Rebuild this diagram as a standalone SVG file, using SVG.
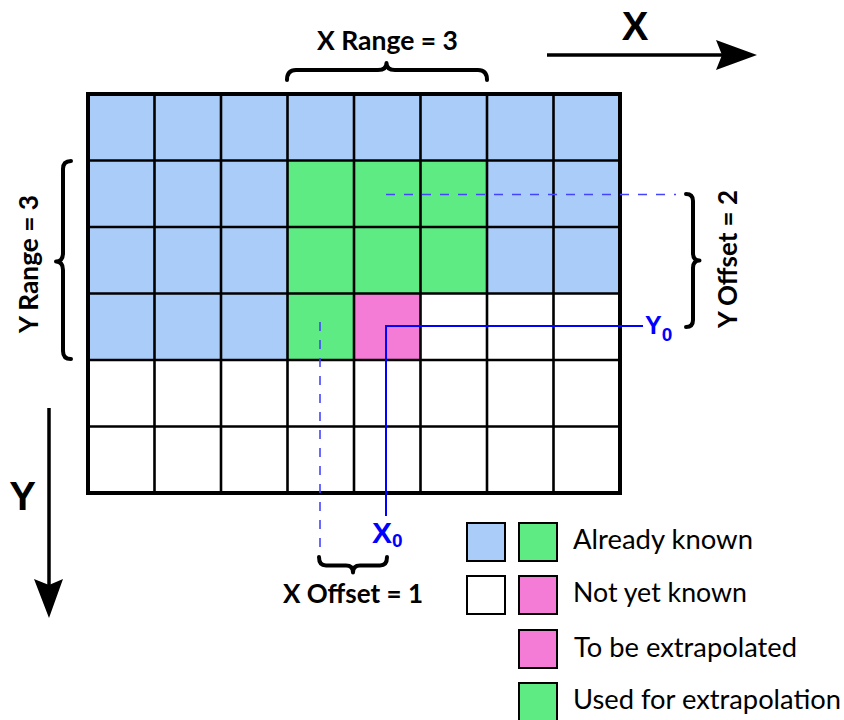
<svg xmlns="http://www.w3.org/2000/svg" width="844" height="720" viewBox="0 0 844 720">
  <style>
    .known { fill: #a9cdf8; }
    .used { fill: #5eeb84; }
    .target { fill: #f47bd6; }
    .blank { fill: #ffffff; }
    .grid-inner { stroke: #000; stroke-width: 2.6; fill: none; }
    .grid-outer { stroke: #000; stroke-width: 4; fill: none; }
    .brace { stroke: #000; stroke-width: 4; fill: none; stroke-linecap: round; stroke-linejoin: round; }
    .axis { stroke: #000; stroke-width: 3.5; fill: none; }
    .guide { stroke: #4444ff; stroke-width: 1.6; stroke-dasharray: 9 9; fill: none; }
    .origin { stroke: #0000ff; stroke-width: 2; fill: none; }
    .label { font-family: Lato, "Open Sans", sans-serif; font-weight: bold; font-size: 27px; fill: #000; }
    .axis-label { font-family: "Liberation Sans", Arial, sans-serif; font-weight: bold; font-size: 40px; fill: #000; }
    .coord { font-family: "Liberation Sans", Arial, sans-serif; font-weight: bold; fill: #0000ff; }
    .legend-text { font-family: Lato, "Open Sans", sans-serif; font-size: 27px; fill: #000; }
    .swatch { stroke: #000; stroke-width: 2; }
  </style>

  <!-- 8 x 6 cell grid, cell size 66.5 -->
  <g id="grid">
    <rect class="blank" x="88" y="94" width="532" height="399"/>
    <rect class="known" x="88" y="94" width="532" height="66.5"/>
    <rect class="known" x="88" y="160.5" width="199.5" height="199.5"/>
    <rect class="known" x="487" y="160.5" width="133" height="133"/>
    <rect class="used" x="287.5" y="160.5" width="199.5" height="133"/>
    <rect class="used" x="287.5" y="293.5" width="66.5" height="66.5"/>
    <rect class="target" x="354" y="293.5" width="66.5" height="66.5"/>
    <path class="grid-inner" d="M154.5 94V493 M221 94V493 M287.5 94V493 M354 94V493 M420.5 94V493 M487 94V493 M553.5 94V493
      M88 160.5H620 M88 227H620 M88 293.5H620 M88 360H620 M88 426.5H620"/>
    <rect class="grid-outer" x="88" y="94" width="532" height="399"/>
  </g>

  <g id="connectors">
    <!-- offset guides -->
    <line class="guide" x1="386" y1="194.5" x2="676" y2="194.5"/>
    <line class="guide" x1="320" y1="322" x2="320" y2="551"/>
    <!-- origin lines -->
    <polyline class="origin" points="643,326 386,326 386,516"/>
    <!-- axes -->
    <line class="axis" x1="547" y1="55" x2="724" y2="55"/>
    <polygon points="757,55 716,40 722,55 716,70" fill="#000"/>
    <line class="axis" x1="49" y1="408" x2="49" y2="586"/>
    <polygon points="49,618 34,579 49,585 63,579" fill="#000"/>
  </g>

  <g id="x-range">
    <path class="brace" d="M287 80 Q287 70 296 70 L378 70 Q386.5 70 386.5 63 Q386.5 70 395 70 L478 70 Q487 70 487 80"/>
    <text class="label" x="387.5" y="50" text-anchor="middle" textLength="141" lengthAdjust="spacingAndGlyphs">X Range = 3</text>
  </g>

  <g id="y-range">
    <path class="brace" d="M71 161 Q63 161 63 169 L63 253 Q63 261.5 56 261.5 Q63 261.5 63 270 L63 351 Q63 359 71 359"/>
    <text class="label" transform="translate(38,264) rotate(-90)" text-anchor="middle" textLength="138" lengthAdjust="spacingAndGlyphs">Y Range = 3</text>
  </g>

  <g id="y-offset">
    <path class="brace" d="M686 194 Q693 194 693 201 L693 253 Q693 260.5 699.5 260.5 Q693 260.5 693 268 L693 320 Q693 327 686 327"/>
    <text class="label" transform="translate(737,259) rotate(-90)" text-anchor="middle" textLength="138" lengthAdjust="spacingAndGlyphs">Y Offset = 2</text>
  </g>

  <g id="x-offset">
    <path class="brace" d="M319 557 Q319 565.5 326 565.5 L346 565.5 Q353 565.5 353 572.5 Q353 565.5 360 565.5 L380 565.5 Q387 565.5 387 557"/>
    <text class="label" x="353" y="603" text-anchor="middle" textLength="140" lengthAdjust="spacingAndGlyphs">X Offset = 1</text>
  </g>

  <g id="axis-labels">
    <text class="axis-label" x="635" y="40" text-anchor="middle">X</text>
    <text class="axis-label" x="22.5" y="510" text-anchor="middle">Y</text>
  </g>

  <g id="origin-labels">
    <text class="coord" x="645" y="334" font-size="25">Y<tspan font-size="19" dy="7">0</tspan></text>
    <text class="coord" x="372" y="543" font-size="30">X<tspan font-size="19" dy="4">0</tspan></text>
  </g>

  <g id="legend">
    <g id="legend-known">
      <rect class="swatch known" x="467" y="523" width="38" height="38"/>
      <rect class="swatch used" x="519" y="523" width="38" height="38"/>
      <text class="legend-text" x="573" y="548.5" textLength="180" lengthAdjust="spacingAndGlyphs">Already known</text>
    </g>
    <g id="legend-unknown">
      <rect class="swatch blank" x="467" y="576" width="38" height="38"/>
      <rect class="swatch target" x="519" y="576" width="38" height="38"/>
      <text class="legend-text" x="573" y="602" textLength="174" lengthAdjust="spacingAndGlyphs">Not yet known</text>
    </g>
    <g id="legend-target">
      <rect class="swatch target" x="519" y="630" width="38" height="38"/>
      <text class="legend-text" x="574" y="657" textLength="223" lengthAdjust="spacingAndGlyphs">To be extrapolated</text>
    </g>
    <g id="legend-used">
      <rect class="swatch used" x="519" y="683" width="38" height="38"/>
      <text class="legend-text" x="573" y="708.5" textLength="268" lengthAdjust="spacingAndGlyphs">Used for extrapolation</text>
    </g>
  </g>
</svg>
